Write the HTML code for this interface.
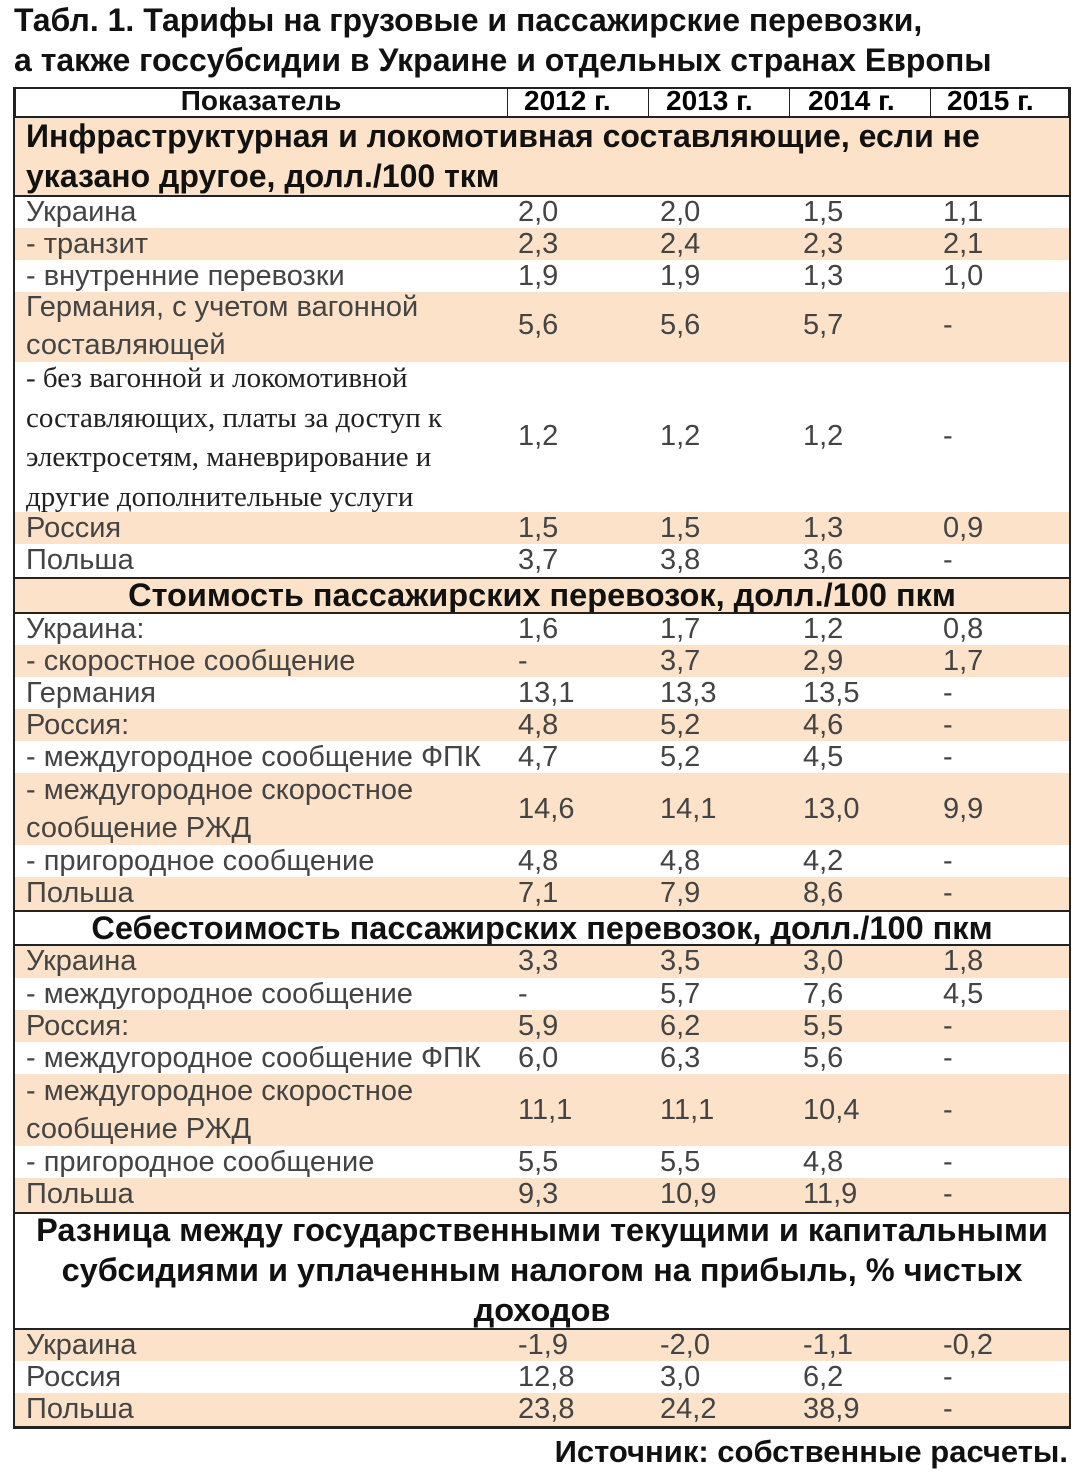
<!DOCTYPE html>
<html><head><meta charset="utf-8"><style>
body{margin:0;width:1077px;height:1473px;background:#fff;position:relative;font-family:"Liberation Sans",sans-serif;overflow:hidden}
.t{position:absolute;left:14px;font-weight:bold;font-size:32px;color:#111;white-space:nowrap}
.r{position:absolute;left:14px;width:1056px;box-sizing:border-box}
.p{background:#fbe2c8}
.r span{position:absolute;font-size:29px;color:#444;white-space:nowrap;line-height:32px}
.r span.a{left:12px}
.c1{left:504px}.c2{left:646px}.c3{left:789px}.c4{left:929px}
.s{position:absolute;left:14px;width:1056px;text-align:center;font-weight:bold;font-size:32.5px;color:#111;line-height:40px;box-sizing:border-box;white-space:nowrap}
.hl{position:absolute;left:14px;width:1056px;height:3px;background:#222}
.sr{font-family:"Liberation Serif",serif!important;font-size:29px!important;line-height:39.5px!important;color:#222!important}
</style></head><body>
<div class="t" style="top:0px;line-height:40px">Табл. 1. Тарифы на грузовые и пассажирские перевозки,</div>
<div class="t" style="top:40px;line-height:40px">а также госсубсидии в Украине и отдельных странах Европы</div>

<div class="r" style="top:87px;height:30px;border:2px solid #222;border-bottom:none"></div>
<div class="s" style="top:84px;line-height:34px;width:494px;font-size:28px">Показатель</div>
<div style="position:absolute;top:84px;left:524px;font-weight:bold;font-size:28px;line-height:34px">2012 г.</div>
<div style="position:absolute;top:84px;left:666px;font-weight:bold;font-size:28px;line-height:34px">2013 г.</div>
<div style="position:absolute;top:84px;left:808px;font-weight:bold;font-size:28px;line-height:34px">2014 г.</div>
<div style="position:absolute;top:84px;left:947px;font-weight:bold;font-size:28px;line-height:34px">2015 г.</div>
<div style="position:absolute;top:87px;left:507px;width:1px;height:30px;background:#222"></div>
<div style="position:absolute;top:87px;left:648px;width:1px;height:30px;background:#222"></div>
<div style="position:absolute;top:87px;left:789px;width:1px;height:30px;background:#222"></div>
<div style="position:absolute;top:87px;left:930px;width:1px;height:30px;background:#222"></div>

<div class="r p" style="top:117px;height:79px"></div>
<div class="t" style="top:116px;left:26px;line-height:40px">Инфраструктурная и локомотивная составляющие, если не<br>указано другое, долл./100 ткм</div>

<div class="r" style="top:196px;height:32px"><span class="a">Украина</span><span class="c1">2,0</span><span class="c2">2,0</span><span class="c3">1,5</span><span class="c4">1,1</span></div>
<div class="r p" style="top:228px;height:32px"><span class="a">- транзит</span><span class="c1">2,3</span><span class="c2">2,4</span><span class="c3">2,3</span><span class="c4">2,1</span></div>
<div class="r" style="top:260px;height:32px"><span class="a">- внутренние перевозки</span><span class="c1">1,9</span><span class="c2">1,9</span><span class="c3">1,3</span><span class="c4">1,0</span></div>
<div class="r p" style="top:292px;height:70px"><span class="a" style="line-height:38px;top:-4px">Германия, с учетом вагонной<br>составляющей</span><span class="c1" style="top:17px">5,6</span><span class="c2" style="top:17px">5,6</span><span class="c3" style="top:17px">5,7</span><span class="c4" style="top:17px">-</span></div>
<div class="r" style="top:362px;height:150px"><span class="a sr" style="top:-3px">- без вагонной и локомотивной<br>составляющих, платы за доступ к<br>электросетям, маневрирование и<br>другие дополнительные услуги</span><span class="c1" style="top:58px">1,2</span><span class="c2" style="top:58px">1,2</span><span class="c3" style="top:58px">1,2</span><span class="c4" style="top:58px">-</span></div>
<div class="r p" style="top:512px;height:32px"><span class="a">Россия</span><span class="c1">1,5</span><span class="c2">1,5</span><span class="c3">1,3</span><span class="c4">0,9</span></div>
<div class="r" style="top:544px;height:34px"><span class="a">Польша</span><span class="c1">3,7</span><span class="c2">3,8</span><span class="c3">3,6</span><span class="c4">-</span></div>

<div class="r p" style="top:578px;height:35px"></div>
<div class="s" style="top:575px">Стоимость пассажирских перевозок, долл./100 пкм</div>

<div class="r" style="top:613px;height:32px"><span class="a">Украина:</span><span class="c1">1,6</span><span class="c2">1,7</span><span class="c3">1,2</span><span class="c4">0,8</span></div>
<div class="r p" style="top:645px;height:32px"><span class="a">- скоростное сообщение</span><span class="c1">-</span><span class="c2">3,7</span><span class="c3">2,9</span><span class="c4">1,7</span></div>
<div class="r" style="top:677px;height:32px"><span class="a">Германия</span><span class="c1">13,1</span><span class="c2">13,3</span><span class="c3">13,5</span><span class="c4">-</span></div>
<div class="r p" style="top:709px;height:32px"><span class="a">Россия:</span><span class="c1">4,8</span><span class="c2">5,2</span><span class="c3">4,6</span><span class="c4">-</span></div>
<div class="r" style="top:741px;height:32px"><span class="a">- междугородное сообщение ФПК</span><span class="c1">4,7</span><span class="c2">5,2</span><span class="c3">4,5</span><span class="c4">-</span></div>
<div class="r p" style="top:773px;height:72px"><span class="a" style="line-height:38px;top:-2px">- междугородное скоростное<br>сообщение РЖД</span><span class="c1" style="top:20px">14,6</span><span class="c2" style="top:20px">14,1</span><span class="c3" style="top:20px">13,0</span><span class="c4" style="top:20px">9,9</span></div>
<div class="r" style="top:845px;height:32px"><span class="a">- пригородное сообщение</span><span class="c1">4,8</span><span class="c2">4,8</span><span class="c3">4,2</span><span class="c4">-</span></div>
<div class="r p" style="top:877px;height:34px"><span class="a">Польша</span><span class="c1">7,1</span><span class="c2">7,9</span><span class="c3">8,6</span><span class="c4">-</span></div>

<div class="s" style="top:908px">Себестоимость пассажирских перевозок, долл./100 пкм</div>

<div class="r p" style="top:945px;height:33px"><span class="a">Украина</span><span class="c1">3,3</span><span class="c2">3,5</span><span class="c3">3,0</span><span class="c4">1,8</span></div>
<div class="r" style="top:978px;height:32px"><span class="a">- междугородное сообщение</span><span class="c1">-</span><span class="c2">5,7</span><span class="c3">7,6</span><span class="c4">4,5</span></div>
<div class="r p" style="top:1010px;height:32px"><span class="a">Россия:</span><span class="c1">5,9</span><span class="c2">6,2</span><span class="c3">5,5</span><span class="c4">-</span></div>
<div class="r" style="top:1042px;height:32px"><span class="a">- междугородное сообщение ФПК</span><span class="c1">6,0</span><span class="c2">6,3</span><span class="c3">5,6</span><span class="c4">-</span></div>
<div class="r p" style="top:1074px;height:72px"><span class="a" style="line-height:38px;top:-2px">- междугородное скоростное<br>сообщение РЖД</span><span class="c1" style="top:20px">11,1</span><span class="c2" style="top:20px">11,1</span><span class="c3" style="top:20px">10,4</span><span class="c4" style="top:20px">-</span></div>
<div class="r" style="top:1146px;height:32px"><span class="a">- пригородное сообщение</span><span class="c1">5,5</span><span class="c2">5,5</span><span class="c3">4,8</span><span class="c4">-</span></div>
<div class="r p" style="top:1178px;height:35px"><span class="a">Польша</span><span class="c1">9,3</span><span class="c2">10,9</span><span class="c3">11,9</span><span class="c4">-</span></div>

<div class="s" style="top:1210px">Разница между государственными текущими и капитальными<br>субсидиями и уплаченным налогом на прибыль, % чистых<br>доходов</div>

<div class="r p" style="top:1329px;height:32px"><span class="a">Украина</span><span class="c1">-1,9</span><span class="c2">-2,0</span><span class="c3">-1,1</span><span class="c4">-0,2</span></div>
<div class="r" style="top:1361px;height:32px"><span class="a">Россия</span><span class="c1">12,8</span><span class="c2">3,0</span><span class="c3">6,2</span><span class="c4">-</span></div>
<div class="r p" style="top:1393px;height:34px"><span class="a">Польша</span><span class="c1">23,8</span><span class="c2">24,2</span><span class="c3">38,9</span><span class="c4">-</span></div>

<div class="hl" style="top:116px;height:2px"></div>
<div class="hl" style="top:195px;height:2px"></div>
<div class="hl" style="top:577px;height:2px"></div>
<div class="hl" style="top:612px;height:2px"></div>
<div class="hl" style="top:910px;height:2px"></div>
<div class="hl" style="top:944px;height:2px"></div>
<div class="hl" style="top:1212px;height:2px"></div>
<div class="hl" style="top:1328px;height:2px"></div>
<div class="hl" style="top:1426px;height:3px"></div>
<div style="position:absolute;top:87px;left:13px;width:2px;height:1342px;background:#222"></div>
<div style="position:absolute;top:87px;left:1069px;width:2px;height:1342px;background:#222"></div>

<div class="t" style="top:1434px;left:auto;right:9px;font-size:31px">Источник: собственные расчеты.</div>
</body></html>
